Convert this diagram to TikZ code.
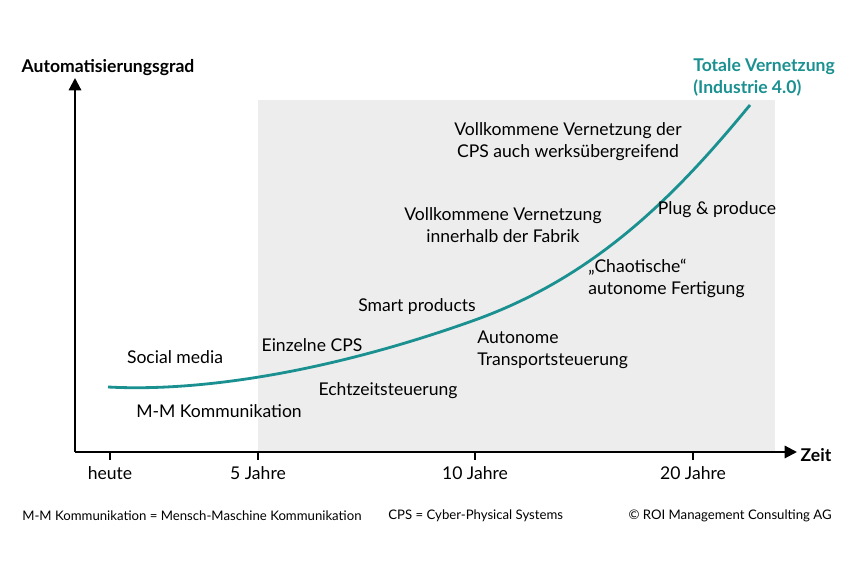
\documentclass[tikz,border=0pt]{standalone}
\usepackage{fontspec}
\setmainfont{Lato}
\usetikzlibrary{arrows.meta}
\definecolor{teal1}{HTML}{1A9090}
\definecolor{grayb}{HTML}{EDEDED}
\begin{document}
\begin{tikzpicture}[x=0.02cm,y=-0.02cm,
 lab/.style={font=\fontsize{10}{12.5}\selectfont,align=center,inner sep=0},
 labl/.style={lab,align=left,anchor=west},
 foot/.style={font=\fontsize{7.5}{10}\selectfont,inner sep=0}]
\useasboundingbox (0,0) rectangle (860,580);
\fill[grayb] (258,100) rectangle (775,452);
\coordinate (o) at (75,452);
\coordinate (ytop) at (75,78);
\coordinate (xend) at (797,452);
\draw[line width=1.2pt,-{Triangle[length=7pt,width=7pt]}] (o) -- (ytop);
\draw[line width=1.2pt,-{Triangle[length=7pt,width=7pt]}] (o) -- (xend);
\foreach \x in {110,258,475,693} \draw[line width=0.8pt] (\x,452) -- (\x,460);
\draw[teal1,line width=1.6pt] (108,387) .. controls (200,392) and (330,372) .. (475,320) .. controls (600,275) and (680,190) .. (750,105);
\node[lab,font=\fontsize{10}{12.5}\selectfont\bfseries] (ya) at (108,68) {Automatisierungsgrad};
\node[labl,text=teal1,font=\fontsize{10}{12.5}\selectfont\bfseries] (tv) at (693,77) {Totale Vernetzung\\(Industrie 4.0)};
\node[lab] (a) at (568,142) {Vollkommene Vernetzung der\\CPS auch werksübergreifend};
\node[lab] (b) at (503,225) {Vollkommene Vernetzung\\innerhalb der Fabrik};
\node[lab] (c) at (717,210) {Plug \& produce};
\node[labl] (d) at (588,278) {„Chaotische“\\autonome Fertigung};
\node[lab] (e) at (417,307) {Smart products};
\node[labl] (f) at (477,350) {Autonome\\Transportsteuerung};
\node[lab] (g) at (312,345) {Einzelne CPS};
\node[lab] (h) at (175,357) {Social media};
\node[lab] (i) at (388,391) {Echtzeitsteuerung};
\node[lab] (j) at (219,411) {M-M Kommunikation};
\node[lab,font=\fontsize{10}{12.5}\selectfont\bfseries] (z) at (816,455) {Zeit};
\node[lab] (t1) at (110,473) {heute};
\node[lab] (t2) at (258,473) {5 Jahre};
\node[lab] (t3) at (475,473) {10 Jahre};
\node[lab] (t4) at (693,473) {20 Jahre};
\node[foot,anchor=west] (f1) at (22,516) {M-M Kommunikation = Mensch-Maschine Kommunikation};
\node[foot,anchor=west] (f2) at (388,516) {CPS = Cyber-Physical Systems};
\node[foot,anchor=east] (f3) at (832,516) {© ROI Management Consulting AG};
\end{tikzpicture}
\end{document}
